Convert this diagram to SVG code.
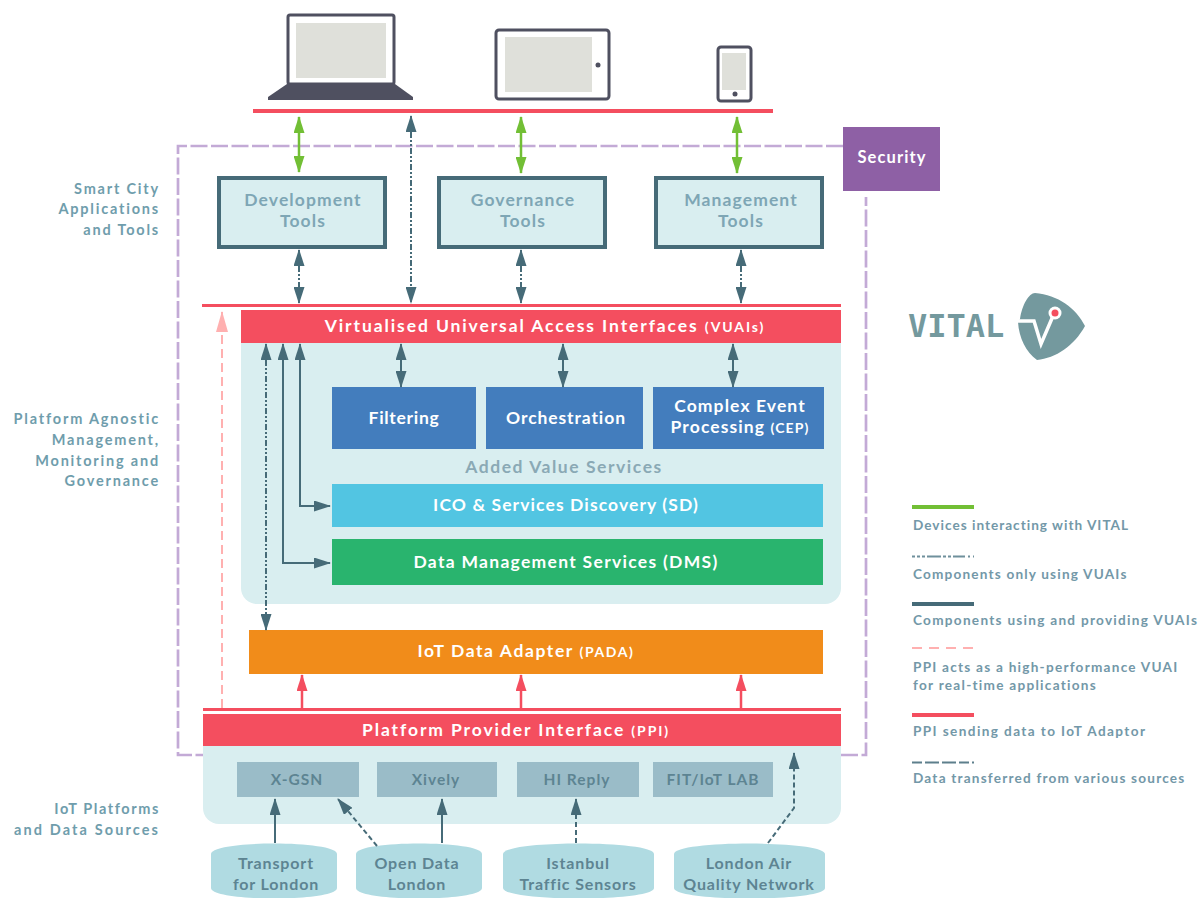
<svg xmlns="http://www.w3.org/2000/svg" width="1200" height="898" viewBox="0 0 1200 898">
<style>
text{font-family:"Lato","Liberation Sans",sans-serif;font-weight:700;letter-spacing:.8px}
.w{fill:#fff;text-anchor:middle;font-size:17.5px;letter-spacing:1.1px}
.bar{letter-spacing:1.9px}
.sm{font-size:14px}
.t{fill:#7ea6b5;text-anchor:middle;font-size:17.5px;letter-spacing:1.1px}
.l{fill:#6f9dac;text-anchor:end;font-size:14.5px;letter-spacing:1.8px}
.k{fill:#7398a8;font-size:13.6px}
.s{fill:#5d8492;text-anchor:middle;font-size:15.5px;letter-spacing:1px}
.c{fill:#5d8492;text-anchor:middle;font-size:16px;letter-spacing:.85px}
.tool{fill:#d9eef0;stroke:#466b78;stroke-width:4}
.src{fill:#9abcc8}
.cyl{fill:#b0dbe2}
.dev{fill:none;stroke:#4f5060;stroke-width:3}
.scr{fill:#dfe0da}
.a{fill:none;stroke:#466b78;stroke-width:2}
.dd{stroke-dasharray:6 2 2 2 2 2}
.d2{stroke-dasharray:5 3}
.g{fill:none;stroke:#72bf35;stroke-width:2.5}
.r{fill:none;stroke:#f44e5f;stroke-width:2.5}
.p{fill:none;stroke:#ffb0b0;stroke-width:2;stroke-dasharray:9 5}
</style>
<defs>
<marker id="ae" markerUnits="userSpaceOnUse" markerWidth="17" markerHeight="11" refX="16" refY="5.5" orient="auto-start-reverse" viewBox="0 0 17 11"><path d="M0 0L17 5.5 0 11z" fill="#466b78"/></marker>
<marker id="ge" markerUnits="userSpaceOnUse" markerWidth="17" markerHeight="11" refX="16" refY="5.5" orient="auto-start-reverse" viewBox="0 0 17 11"><path d="M0 0L17 5.500 0 11z" fill="#72bf35"/></marker>
<marker id="re" markerUnits="userSpaceOnUse" markerWidth="17" markerHeight="11" refX="16" refY="5.5" orient="auto-start-reverse" viewBox="0 0 17 11"><path d="M0 0L17 5.500 0 11z" fill="#f44e5f"/></marker>
<marker id="pe" markerUnits="userSpaceOnUse" markerWidth="21" markerHeight="12" refX="20" refY="6" orient="auto-start-reverse" viewBox="0 0 21 12"><path d="M0 0L21 6 0 12z" fill="#ffb0b0"/></marker>
</defs>
<rect width="1200" height="898" fill="#fff"/>

<g id="devices">
<rect class="dev" x="288" y="15" width="106" height="69" rx="2"/>
<rect class="scr" x="296" y="23" width="90" height="55"/>
<path d="M287 84H395L413 97V100H268V97z" fill="#4f5060"/>
<rect class="dev" x="496" y="30" width="113" height="69" rx="3"/>
<rect class="scr" x="505" y="37" width="87" height="55"/>
<circle cx="598" cy="65" r="2.5" fill="#4f5060"/>
<rect class="dev" x="718" y="47" width="33" height="54" rx="3"/>
<rect class="scr" x="722" y="53" width="24" height="37"/>
<circle cx="735" cy="94" r="2.5" fill="#4f5060"/>
<rect x="253" y="109" width="520" height="4" fill="#f44e5f"/>
</g>

<path id="security-boundary" d="M843 146H178V755H203M841 755H866V197" fill="none" stroke="#c3aad6" stroke-width="2.7" stroke-dasharray="17 3.5"/>

<g id="security"><rect x="843" y="127" width="97" height="64" fill="#8e60a5"/><text class="w" x="892" y="163" style="font-size:16.5px">Security</text></g>

<g id="dev-tools"><rect class="tool" x="219" y="178" width="166" height="69"/><text class="t" x="303" y="206">Development</text><text class="t" x="303" y="227">Tools</text></g>
<g id="gov-tools"><rect class="tool" x="439" y="178" width="166" height="69"/><text class="t" x="523" y="206">Governance</text><text class="t" x="523" y="227">Tools</text></g>
<g id="mgmt-tools"><rect class="tool" x="656" y="178" width="166" height="69"/><text class="t" x="741" y="206">Management</text><text class="t" x="741" y="227">Tools</text></g>

<g id="vuai-panel">
<path d="M241 343H841V588a16 16 0 0 1-16 16H257a16 16 0 0 1-16-16z" fill="#d9eef0"/>
<rect x="202" y="304" width="639" height="3" fill="#f44e5f"/>
<rect x="241" y="310" width="600" height="33" fill="#f44e5f"/>
<text class="w bar" x="545" y="332">Virtualised Universal Access Interfaces <tspan class="sm">(VUAIs)</tspan></text>
</g>
<g id="filtering"><rect x="332" y="387" width="144" height="62" fill="#437dbd"/><text class="w" x="404" y="424" style="letter-spacing:.7px">Filtering</text></g>
<g id="orchestration"><rect x="486" y="387" width="157" height="62" fill="#437dbd"/><text class="w" x="566" y="424" style="letter-spacing:.9px">Orchestration</text></g>
<g id="cep"><rect x="653" y="387" width="171" height="62" fill="#437dbd"/><text class="w" x="740" y="412">Complex Event</text><text class="w" x="740" y="433">Processing <tspan class="sm">(CEP)</tspan></text></g>
<text id="added-value" class="t" x="564" y="473" style="fill:#8aa9b5;letter-spacing:1.55px">Added Value Services</text>
<g id="discovery"><rect x="332" y="484" width="491" height="43" fill="#52c5e2"/><text class="w" x="566" y="511">ICO &amp; Services Discovery (SD)</text></g>
<g id="dms"><rect x="332" y="539" width="491" height="46" fill="#29b46e"/><text class="w" x="566" y="568" style="letter-spacing:1.3px">Data Management Services (DMS)</text></g>
<g id="pada"><rect x="249" y="630" width="574" height="44" fill="#f18c1a"/><text class="w" x="526" y="657" style="letter-spacing:1.6px">IoT Data Adapter <tspan class="sm">(PADA)</tspan></text></g>

<g id="ppi">
<path d="M203 746H841V808a16 16 0 0 1-16 16H219a16 16 0 0 1-16-16z" fill="#d9eef0"/>
<rect x="203" y="708" width="638" height="3" fill="#f44e5f"/>
<rect x="203" y="714" width="638" height="32" fill="#f44e5f"/>
<text class="w bar" x="516" y="736">Platform Provider Interface <tspan class="sm">(PPI)</tspan></text>
</g>
<g id="xgsn"><rect class="src" x="237" y="762" width="122" height="35"/><text class="s" x="297" y="785">X-GSN</text></g>
<g id="xively"><rect class="src" x="377" y="762" width="120" height="35"/><text class="s" x="436" y="785">Xively</text></g>
<g id="hireply"><rect class="src" x="517" y="762" width="122" height="35"/><text class="s" x="577" y="785">HI Reply</text></g>
<g id="fit"><rect class="src" x="653" y="762" width="120" height="35"/><text class="s" x="713" y="785">FIT/IoT LAB</text></g>

<g id="tfl"><path class="cyl" d="M211 854C211 840 337 840 337 854V888C337 902 211 902 211 888z"/><text class="c" x="276" y="869">Transport</text><text class="c" x="276" y="890">for London</text></g>
<g id="opendata"><path class="cyl" d="M356 854C356 840 482 840 482 854V888C482 902 356 902 356 888z"/><text class="c" x="417" y="869">Open Data</text><text class="c" x="417" y="890">London</text></g>
<g id="istanbul"><path class="cyl" d="M503 854C503 840 654 840 654 854V888C654 902 503 902 503 888z"/><text class="c" x="578" y="869">Istanbul</text><text class="c" x="578" y="890">Traffic Sensors</text></g>
<g id="air"><path class="cyl" d="M674 854C674 840 825 840 825 854V888C825 902 674 902 674 888z"/><text class="c" x="749" y="869">London Air</text><text class="c" x="749" y="890">Quality Network</text></g>

<g id="connectors">
<path class="g" d="M299 117V172" marker-start="url(#ge)" marker-end="url(#ge)"/>
<path class="g" d="M521 117V173" marker-start="url(#ge)" marker-end="url(#ge)"/>
<path class="g" d="M737 117V173" marker-start="url(#ge)" marker-end="url(#ge)"/>
<path class="a dd" d="M411 116V303" marker-start="url(#ae)" marker-end="url(#ae)"/>
<path class="a dd" d="M299 250V303" marker-start="url(#ae)" marker-end="url(#ae)"/>
<path class="a dd" d="M521 250V303" marker-start="url(#ae)" marker-end="url(#ae)"/>
<path class="a dd" d="M741 250V303" marker-start="url(#ae)" marker-end="url(#ae)"/>
<path class="p" d="M222 708V312" marker-end="url(#pe)"/>
<path class="a dd" d="M266 344V630" marker-start="url(#ae)" marker-end="url(#ae)"/>
<path class="a" d="M283 344V563H330" marker-start="url(#ae)" marker-end="url(#ae)"/>
<path class="a" d="M300 344V506H330" marker-start="url(#ae)" marker-end="url(#ae)"/>
<path class="a" d="M401 344V387" marker-start="url(#ae)" marker-end="url(#ae)"/>
<path class="a" d="M563 344V387" marker-start="url(#ae)" marker-end="url(#ae)"/>
<path class="a" d="M733 344V387" marker-start="url(#ae)" marker-end="url(#ae)"/>
<path class="r" d="M302 708V675" marker-end="url(#re)"/>
<path class="r" d="M521 708V675" marker-end="url(#re)"/>
<path class="r" d="M741 708V675" marker-end="url(#re)"/>
<path class="a" d="M275 843V799" marker-end="url(#ae)"/>
<path class="a d2" d="M377 846L338 799" marker-end="url(#ae)"/>
<path class="a" d="M442 843V799" marker-end="url(#ae)"/>
<path class="a d2" d="M576 843V799" marker-end="url(#ae)"/>
<path class="a d2" d="M768 843L794 808V753" marker-end="url(#ae)"/>
</g>

<g id="side-labels">
<text class="l" x="160" y="194">Smart City</text><text class="l" x="160" y="214">Applications</text><text class="l" x="160" y="235">and Tools</text>
<text class="l" x="160" y="424">Platform Agnostic</text><text class="l" x="160" y="445">Management,</text><text class="l" x="160" y="466">Monitoring and</text><text class="l" x="160" y="486">Governance</text>
<text class="l" x="160" y="814" style="letter-spacing:1.6px">IoT Platforms</text><text class="l" x="160" y="835" style="letter-spacing:2.1px">and Data Sources</text>
</g>

<g id="logo">
<text x="908" y="337" style="font-family:'DejaVu Sans Mono',monospace;font-size:32px;letter-spacing:0;fill:#74999e">VITAL</text>
<path d="M1020 319C1022 305 1029 293 1035 293C1058 295 1076 308 1085 326C1074 346 1056 358 1037 360C1026 352 1019 338 1018 322z" fill="#74999e"/>
<path d="M1018 321H1034L1041 344L1053 316" fill="none" stroke="#fff" stroke-width="3.500"/>
<circle cx="1055" cy="313" r="6.500" fill="#fff"/><circle cx="1055" cy="313" r="3.500" fill="#f44e5f"/>
</g>

<g id="legend">
<rect x="912" y="505" width="62" height="4" fill="#72bf35"/>
<path d="M912 556.500H974" stroke="#6f909c" stroke-width="2" stroke-dasharray="3 2 3 2 3 2 14 2 3 2 3 2 12" fill="none"/>
<rect x="912" y="602" width="62" height="4" fill="#466b78"/>
<path d="M912 648H974" stroke="#ffb0b0" stroke-width="2" stroke-dasharray="10 7" fill="none"/>
<rect x="912" y="713" width="62" height="4" fill="#f44e5f"/>
<path d="M912 762.500H974" stroke="#5d7f8c" stroke-width="2" stroke-dasharray="10 3 14 3 14 3 10 3 3" fill="none"/>
<text class="k" x="913" y="530" style="letter-spacing:1px">Devices interacting with VITAL</text>
<text class="k" x="913" y="579" style="letter-spacing:1.18px">Components only using VUAIs</text>
<text class="k" x="913" y="625" style="letter-spacing:1.27px">Components using and providing VUAIs</text>
<text class="k" x="913" y="672" style="letter-spacing:1.24px">PPI acts as a high-performance VUAI</text>
<text class="k" x="913" y="690" style="letter-spacing:1.27px">for real-time applications</text>
<text class="k" x="913" y="736" style="letter-spacing:1.39px">PPI sending data to IoT Adaptor</text>
<text class="k" x="913" y="783" style="letter-spacing:1.2px">Data transferred from various sources</text>
</g>
</svg>
